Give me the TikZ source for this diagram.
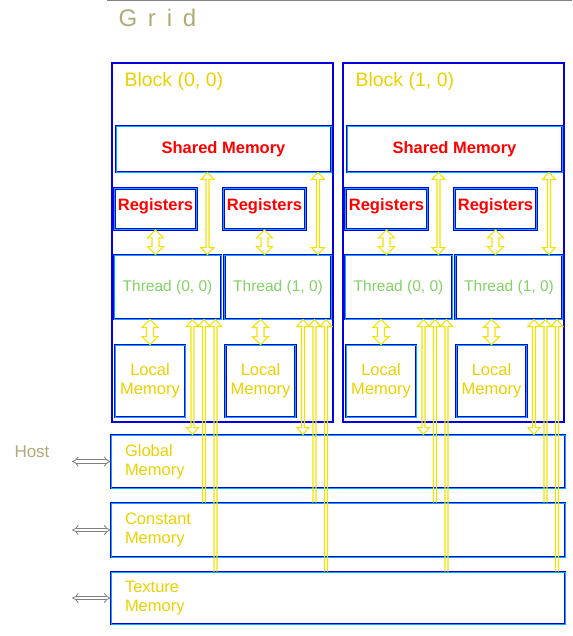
\documentclass[tikz,border=0pt]{standalone}
\usepackage{fontspec}
\setmainfont{Liberation Sans}
\usetikzlibrary{arrows.meta,positioning,calc}

\definecolor{ylw}{RGB}{242,226,0}
\definecolor{txtylw}{RGB}{236,208,0}
\definecolor{thrgrn}{RGB}{130,210,100}
\definecolor{lineblue}{RGB}{0,0,225}
\definecolor{faint}{RGB}{175,170,120}

\def\blockShift{231}

%% hollow vertical arrows: #1 upper end, #2 lower end, #3 half shaft, #4 half head, #5 head length
\newcommand{\twowayarrow}[5]{
  \draw [memarr] let \p1 = (#1), \p2 = (#2) in
  (\x1,\y1) -- ++(#4,-#5) -- ++({-(#4)+(#3)},0) -- (\x1+#3,\y2+#5) -- ++({(#4)-(#3)},0)
  -- (\x1,\y2) -- ++(-#4,#5) -- ++({(#4)-(#3)},0) -- (\x1-#3,\y1-#5) -- ++({-(#4)+(#3)},0)
  -- cycle;
}
\newcommand{\upwardarrow}[5]{
  \draw [memarr] let \p1 = (#1), \p2 = (#2) in
  (\x1+#3,\y2) -- (\x1+#3,\y1-#5) -- ++({(#4)-(#3)},0) -- (\x1,\y1)
  -- (\x1-#4,\y1-#5) -- ++({(#4)-(#3)},0) -- (\x1-#3,\y2);
}

\tikzset{
  blockbox/.style = {draw = lineblue, line width = 1.4pt, minimum width = 221pt, minimum height = 359pt},
  innerbox/.style = {draw = lineblue, line width = 0.9pt, double = cyan, double distance = 0.9pt, inner sep = 0pt},
  memlabel/.style = {innerbox, minimum width = 454pt, text width = 426pt, align = left,
    text = txtylw, font = \fontsize{16.5}{19}\selectfont},
  redlabel/.style = {text = red, font = \bfseries\fontsize{16.5}{19}\selectfont},
  memarr/.style = {draw = ylw, line width = 1.1pt, line join = miter},
  hostarr/.style = {draw = gray, line width = 0.8pt, double = white, double distance = 2.6pt,
    {Implies}-{Implies}}
}

\begin{document}
\begin{tikzpicture}[x = 1pt, y = -1pt]
  \useasboundingbox (0,0) rectangle (572,636);

  %% grid
  \draw [gray, line width = 1pt] (107,1) -- (572,1);
  \node [text = faint, anchor = west, font = \fontsize{24}{26}\selectfont\addfontfeatures{LetterSpace = 45}]
    (gridlbl) at (115,18) {Grid};

  %% blocks
  \foreach \b in {0,1} {
    \pgfmathsetmacro{\ox}{\b*\blockShift}
    \node [blockbox] (blk\b) at ({222.5+\ox},242.5) {};
    \node [anchor = west, text = txtylw, font = \fontsize{19.5}{22}\selectfont]
      (blk\b lbl) at ({121+\ox},81) {Block (\b, 0)};
    \node [innerbox, redlabel, minimum width = 215pt, minimum height = 46pt]
      (shm\b) at ({223.5+\ox},149) {Shared Memory};
    \foreach \t/\rx/\tx/\lx in {0/155.5/167.5/150, 1/264.5/278/260.5} {
      \node [innerbox, redlabel, minimum width = 82pt, minimum height = 41pt, anchor = north]
        (reg\b\t) at ({\rx+\ox},188) {\raisebox{8pt}{Registers}};
      \node [innerbox, text = thrgrn, minimum width = 107pt, minimum height = 64pt,
        font = \fontsize{15.5}{18}\selectfont]
        (thr\b\t) at ({\tx+\ox},287) {Thread (\t, 0)};
      \node [innerbox, text = txtylw, minimum width = 70pt, minimum height = 72pt, align = center,
        font = \fontsize{16.5}{19}\selectfont]
        (loc\b\t) at ({\lx+\ox},381) {Local\\Memory};
    }
  }

  %% device memories
  \node [memlabel, minimum height = 53pt] (glob) at (338,461.5) {Global\\Memory};
  \node [memlabel, minimum height = 54pt] (const) at (338,530) {Constant\\Memory};
  \node [memlabel, minimum height = 52pt] (tex) at (338,598) {Texture\\Memory};

  %% host
  \node [text = faint, font = \fontsize{17}{20}\selectfont] (host) at (32,452) {Host};
  \coordinate (hostglob) at (72,461.5);
  \coordinate (hostconst) at (72,530);
  \coordinate (hosttex) at (72,598);
  \draw [hostarr] (hostglob) -- (glob.west);
  \draw [hostarr] (hostconst) -- (const.west);
  \draw [hostarr] (hosttex) -- (tex.west);

  %% arrows inside the blocks
  \foreach \b in {0,1} {
    \foreach \t in {0,1} {
      \twowayarrow{reg\b\t.south}{reg\b\t.south |- thr\b\t.north}{3.5pt}{8pt}{8pt}
      \twowayarrow{loc\b\t.north |- thr\b\t.south}{loc\b\t.north}{3.5pt}{8pt}{8pt}
      \twowayarrow{[xshift = -14pt]thr\b\t.north east |- shm\b.south}{[xshift = -14pt]thr\b\t.north east}{1.5pt}{6.5pt}{7pt}
      %% to the device memories
      \twowayarrow{[xshift = -29pt]thr\b\t.south east}{[xshift = -29pt]thr\b\t.south east |- glob.north}{1.5pt}{6pt}{7pt}
      \upwardarrow{[xshift = -17.5pt]thr\b\t.south east}{[xshift = -17.5pt]thr\b\t.south east |- const.north}{1.5pt}{6pt}{7pt}
      \upwardarrow{[xshift = -6pt]thr\b\t.south east}{[xshift = -6pt]thr\b\t.south east |- tex.north}{1.5pt}{6pt}{7pt}
    }
  }
\end{tikzpicture}
\end{document}
